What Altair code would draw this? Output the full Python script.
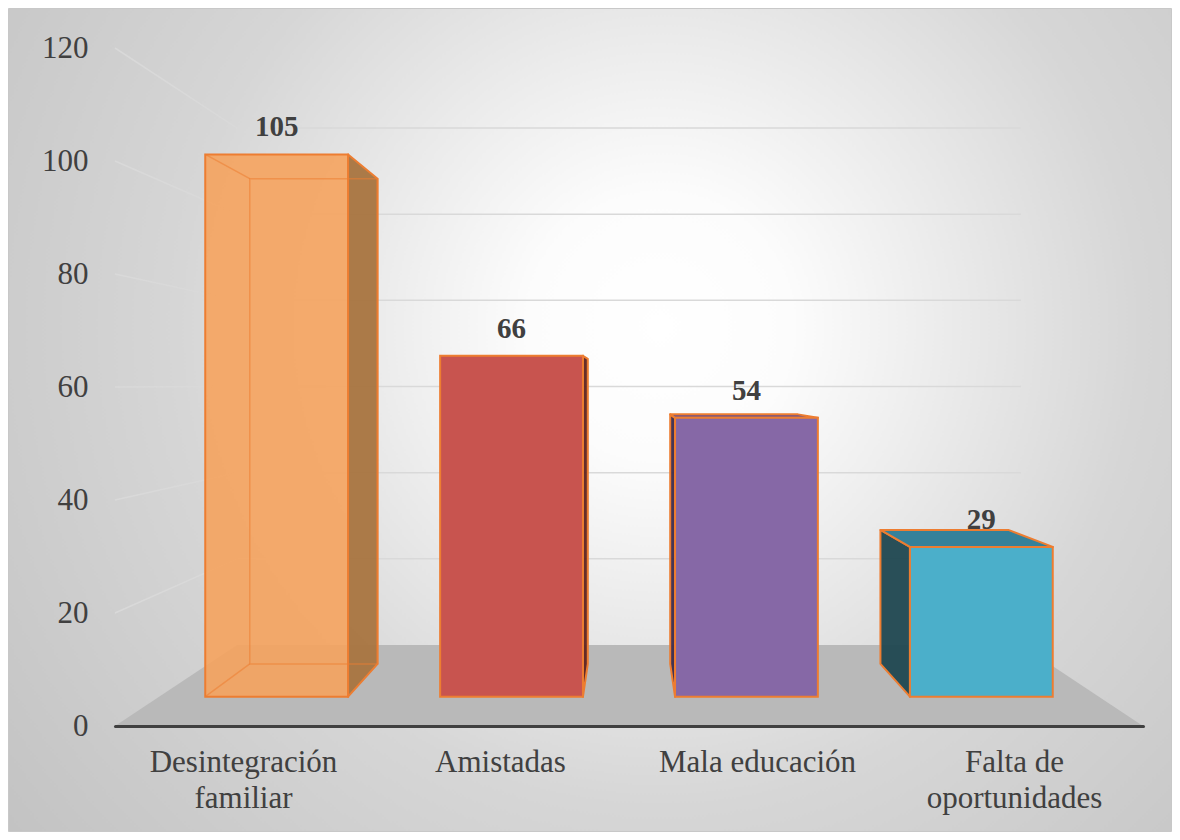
import altair as alt
import pandas as pd

# ---------------- data ----------------
categories = ["Desintegración familiar", "Amistadas", "Mala educación", "Falta de oportunidades"]
label_lines = [["Desintegración", "familiar"], ["Amistadas"], ["Mala educación"], ["Falta de", "oportunidades"]]
values = [105, 66, 54, 29]
y_ticks = [0, 20, 40, 60, 80, 100, 120]

# ---------------- styling ----------------
front_colors = ["#F5A35E", "#C8544F", "#8668A6", "#4BAFCA"]
side_colors = ["#A8743F", "#5E2320", "#3A2B4C", "#1F4750"]
top_colors = ["#D9873F", "#8E3936", "#6B518A", "#35819A"]
face_opacity = [0.9, 1.0, 1.0, 1.0]
EDGE = "#ED7D31"
TEXT = "#404040"
FONT = "Liberation Serif"

# perspective of the 3-D look (centre of projection and depth factors)
CT, CV = 2.0, 60.35
K_FRONT, K_BACK, K_WALL = 0.914, 0.818, 0.7625
HALF = 0.304
N = len(categories)


def pt(t, k):
    return CT + k * (t - CT)


def pv(v, k):
    return CV + k * (v - CV)


xs = alt.Scale(domain=[0, N], nice=False, zero=False)
ys = alt.Scale(domain=[0, 120], nice=False, zero=False)
AX = alt.Axis(labels=False, ticks=False, grid=False, title=None, domain=True,
              domainColor=TEXT, domainWidth=3, domainCap="round", zindex=1)
AY = alt.Axis(values=y_ticks, ticks=False, grid=False, domain=False, title=None,
              labelFont=FONT, labelFontSize=31, labelColor=TEXT, labelPadding=27, zindex=1)


def X(f):
    return alt.X(f, type="quantitative", scale=xs, axis=AX)


def Y(f):
    return alt.Y(f, type="quantitative", scale=ys, axis=AY)


# ---------------- derived tables ----------------
front_rows, side_rows, top_rows, wire_rect, wire_lines, lab_rows = [], [], [], [], [], []
for i, (cat, v) in enumerate(zip(categories, values)):
    c = i + 0.5
    t0, t1 = c - HALF, c + HALF
    front_rows.append(dict(cat=cat, x=pt(t0, K_FRONT), x2=pt(t1, K_FRONT),
                           y=pv(v, K_FRONT), y2=pv(0, K_FRONT),
                           fill=front_colors[i], op=face_opacity[i]))
    lab_rows.append(dict(cat=cat, x=pt(c, K_FRONT), y=pv(v, K_FRONT), txt=str(v)))
    edge_t = t1 if c < CT else t0
    for k in (K_FRONT, K_BACK):
        side_rows.append(dict(cat=cat, x=pt(edge_t, k), y=pv(v, k), y2=pv(0, k), fill=side_colors[i]))
    if v < CV:
        for k in (K_FRONT, K_BACK):
            top_rows.append(dict(cat=cat, y=pv(v, k), x=pt(t0, k), x2=pt(t1, k), fill=top_colors[i]))
    if face_opacity[i] < 1:
        wire_rect.append(dict(cat=cat, x=pt(t0, K_BACK), x2=pt(t1, K_BACK),
                              y=pv(v, K_BACK), y2=pv(0, K_BACK)))
        for vv in (v, 0):
            wire_lines.append(dict(x=pt(t0, K_FRONT), x2=pt(t0, K_BACK),
                                   y=pv(vv, K_FRONT), y2=pv(vv, K_BACK)))

front_df = pd.DataFrame(front_rows)
side_df = pd.DataFrame(side_rows)
top_df = pd.DataFrame(top_rows)
wire_rect_df = pd.DataFrame(wire_rect)
wire_lines_df = pd.DataFrame(wire_lines)
lab_df = pd.DataFrame(lab_rows)

grid_rows = []
for v in y_ticks:
    if v == 0:
        continue
    grid_rows.append(dict(x=pt(0, K_WALL), x2=pt(N, K_WALL), y=pv(v, K_WALL), y2=pv(v, K_WALL)))
    grid_rows.append(dict(x=0, x2=pt(0, K_WALL), y=v, y2=pv(v, K_WALL)))
grid_df = pd.DataFrame(grid_rows)

floor_df = pd.DataFrame([
    dict(x=0, y=0, y2=0),
    dict(x=pt(0, K_WALL), y=pv(0, K_WALL), y2=0),
    dict(x=pt(N, K_WALL), y=pv(0, K_WALL), y2=0),
    dict(x=N, y=0, y2=0),
])

cat_df = pd.DataFrame(dict(cat=categories, x=[i + 0.5 for i in range(N)],
                           txt=["\n".join(l) for l in label_lines]))

# ---------------- layers ----------------
W, H = 1028, 678
PAD = {"left": 107, "top": 40, "right": 29, "bottom": 106}

gradient = {
    "gradient": "radial",
    "x1": 0.56, "y1": 0.42, "r1": 0,
    "x2": 0.56, "y2": 0.42, "r2": 0.75,
    "stops": [
        {"offset": 0.0, "color": "#ffffff"},
        {"offset": 0.15, "color": "#fcfcfc"},
        {"offset": 0.55, "color": "#d6d6d6"},
        {"offset": 1.0, "color": "#c0c0c0"},
    ],
}
bg = alt.Chart(pd.DataFrame({"a": [0]})).mark_rect(fill=gradient, stroke="#c8c8c8", strokeWidth=1).encode(
    x=alt.value(-PAD["left"] + 0.5), x2=alt.value(W + PAD["right"] - 0.5),
    y=alt.value(-PAD["top"] + 0.5), y2=alt.value(H + PAD["bottom"] - 0.5),
)

grid = alt.Chart(grid_df).mark_rule(color="#d9d9d9", strokeWidth=1.5).encode(
    x=X("x"), x2="x2", y=Y("y"), y2="y2",
)

floor = alt.Chart(floor_df).mark_area(color="#b9b9b9", orient="vertical").encode(
    x=X("x"), y=Y("y"), y2="y2",
)

sides = alt.Chart(side_df).mark_area(orient="vertical", stroke=EDGE, strokeWidth=2, strokeJoin="round").encode(
    x=X("x"), y=Y("y"), y2="y2",
    detail="cat:N",
    fill=alt.Fill("fill:N", scale=None),
    fillOpacity=alt.value(0.95),
)

tops = alt.Chart(top_df).mark_area(orient="horizontal", stroke=EDGE, strokeWidth=2, strokeJoin="round").encode(
    y=Y("y"), x=X("x"), x2="x2",
    detail="cat:N",
    fill=alt.Fill("fill:N", scale=None),
)

fronts = alt.Chart(front_df).mark_rect(stroke=EDGE, strokeWidth=2).encode(
    x=X("x"), x2="x2", y=Y("y"), y2="y2",
    fill=alt.Fill("fill:N", scale=None),
    fillOpacity=alt.FillOpacity("op:Q", scale=None),
)

wire_r = alt.Chart(wire_rect_df).mark_rect(fillOpacity=0, stroke=EDGE, strokeWidth=1.5, strokeOpacity=0.55).encode(
    x=X("x"), x2="x2", y=Y("y"), y2="y2",
)
wire_l = alt.Chart(wire_lines_df).mark_rule(color=EDGE, strokeWidth=1.5, opacity=0.55).encode(
    x=X("x"), x2="x2", y=Y("y"), y2="y2",
)

value_labels = alt.Chart(lab_df).mark_text(
    font=FONT, fontSize=29, fontWeight="bold", color=TEXT, baseline="alphabetic", align="center", dy=-18
).encode(
    x=X("x"), y=Y("y"), text="txt:N",
)

cat_labels = alt.Chart(cat_df).mark_text(
    font=FONT, fontSize=31, color=TEXT, baseline="alphabetic", align="center", lineBreak="\n", lineHeight=36
).encode(
    x=X("x"),
    y=alt.value(H + 46),
    text="txt:N",
)

chart = alt.layer(
    bg, grid, floor, sides, tops, fronts, wire_r, wire_l, value_labels, cat_labels
).properties(
    width=W, height=H, padding=PAD, autosize=alt.AutoSizeParams(type="none"),
    background="white",
).configure_view(stroke=None)

chart.save("out.html", embed_options={"renderer": "svg", "actions": False})
